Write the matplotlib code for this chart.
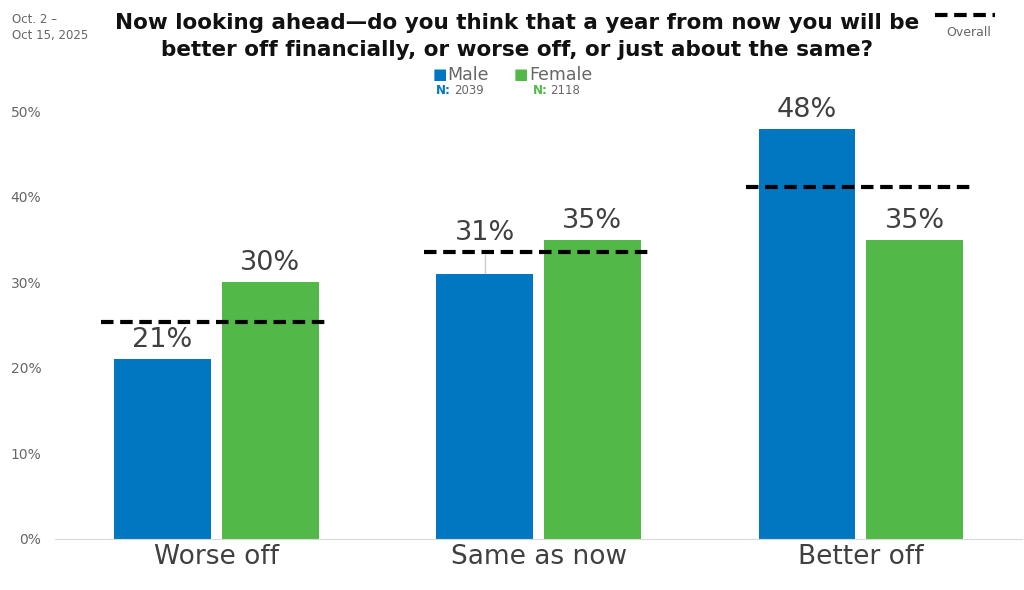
import matplotlib.pyplot as plt
import numpy as np

plt.rcParams['font.family'] = ['DejaVu Sans']

# data
categories = ['Worse off', 'Same as now', 'Better off']
male = [21, 31, 48]
female = [30, 35, 35]
overall = [25.4, 33.5, 41.2]
male_n = 2039
female_n = 2118

blue = '#0077C0'
green = '#52B848'

fig = plt.figure(figsize=(10.24, 5.9), dpi=100)
ax = fig.add_axes([0.054, 0.087, 0.944, 0.724])

x = np.arange(len(categories))
w = 0.30
off = 0.167
ax.bar(x - off, male, w, color=blue)
ax.bar(x + off, female, w, color=green)

# value labels (the 31% one is lifted over the dashed line with a leader)
lift = [0, 2.6, 0]
for xi, v, l in zip(x - off, male, lift):
    ax.text(xi, v + 0.7 + l, f'{v}%', ha='center', va='bottom', fontsize=19.5, color='#404040')
    if l:
        ax.plot([xi, xi], [v, v + l - 0.4], color='#cccccc', lw=1, zorder=0)
for xi, v in zip(x + off, female):
    ax.text(xi, v + 0.7, f'{v}%', ha='center', va='bottom', fontsize=19.5, color='#404040')

# overall dashed lines
for xi, v in zip(x, overall):
    ax.plot([xi - 0.357, xi + 0.357], [v, v], color='black', lw=3,
            linestyle=(0, (3, 1.6)))

ax.set_xlim(-0.5, 2.5)
ax.set_ylim(0, 50)
ax.set_yticks(range(0, 51, 10))
ax.set_yticklabels([f'{t}%' for t in range(0, 51, 10)], fontsize=10, color='#666666')
ax.set_xticks(x)
ax.set_xticklabels(categories, fontsize=19, color='#404040')
ax.tick_params(length=0)
ax.tick_params(axis='y', pad=10)
ax.tick_params(axis='x', pad=4)
for s in ['top', 'right', 'left']:
    ax.spines[s].set_visible(False)
ax.spines['bottom'].set_color('#d9d9d9')

# title and notes
fig.text(0.505, 0.978, 'Now looking ahead\u2014do you think that a year from now you will be\n'
         'better off financially, or worse off, or just about the same?',
         ha='center', va='top', fontsize=15.5, fontweight='bold', color='#111111',
         linespacing=1.45)
fig.text(0.012, 0.978, 'Oct. 2 \u2013\nOct 15, 2025', ha='left', va='top',
         fontsize=8.5, color='#666666', linespacing=1.35)

# legend
fig.text(0.422, 0.873, '\u25a0', color=blue, fontsize=11, va='center', ha='left')
fig.text(0.437, 0.873, 'Male', color='#666666', fontsize=12.5, va='center', ha='left')
fig.text(0.426, 0.847, 'N:', color=blue, fontsize=8.5, fontweight='bold', va='center', ha='left')
fig.text(0.443, 0.847, str(male_n), color='#666666', fontsize=8.5, va='center', ha='left')
fig.text(0.502, 0.873, '\u25a0', color=green, fontsize=11, va='center', ha='left')
fig.text(0.517, 0.873, 'Female', color='#666666', fontsize=12.5, va='center', ha='left')
fig.text(0.520, 0.847, 'N:', color=green, fontsize=8.5, fontweight='bold', va='center', ha='left')
fig.text(0.537, 0.847, str(female_n), color='#666666', fontsize=8.5, va='center', ha='left')

fig.add_artist(plt.Line2D([0.913, 0.972], [0.975, 0.975], color='black', lw=3,
                          linestyle=(0, (3, 1.6)), transform=fig.transFigure))
fig.text(0.946, 0.945, 'Overall', color='#666666', fontsize=9, ha='center', va='center')

fig.savefig('out.png', dpi=100)
